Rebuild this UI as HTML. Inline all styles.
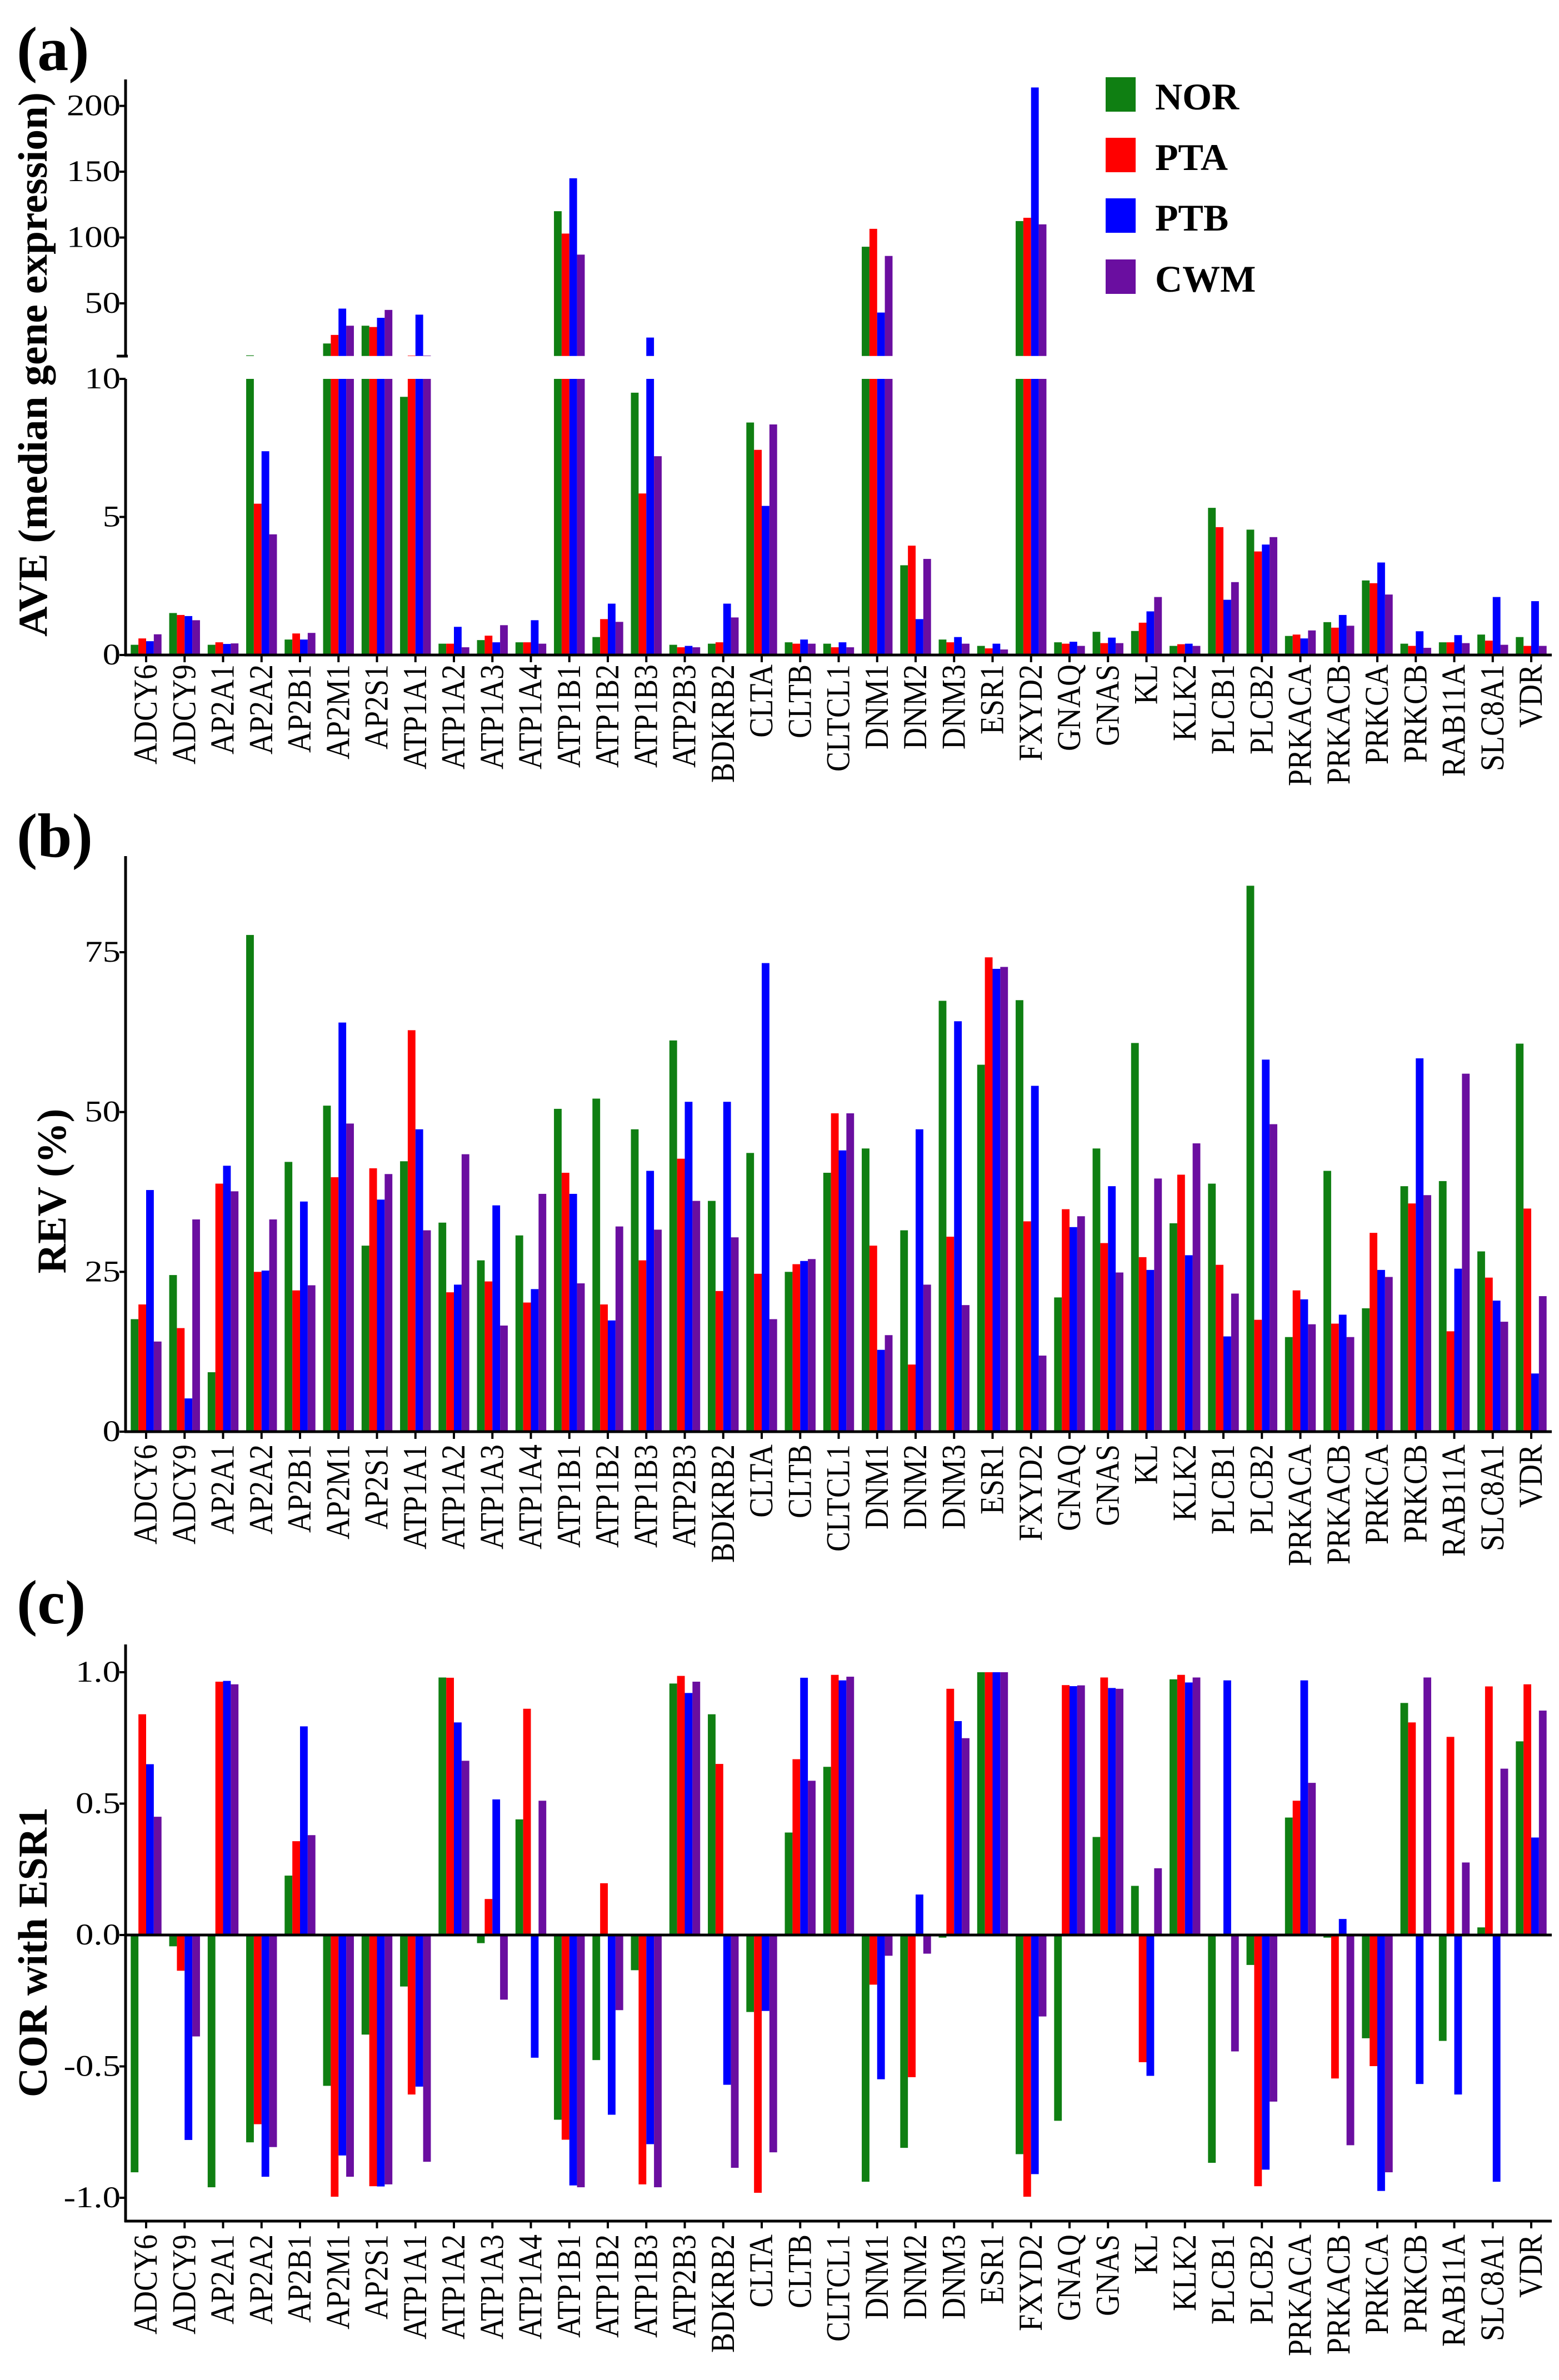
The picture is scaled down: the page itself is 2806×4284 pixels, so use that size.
<!DOCTYPE html>
<html><head><meta charset="utf-8"><style>
html,body{margin:0;padding:0;background:#fff;}
svg{display:block;}
text{font-family:"Liberation Serif",serif;fill:#000;}
</style></head><body>
<svg id="fig" width="2806" height="4284" viewBox="0 0 2806 4284" xmlns="http://www.w3.org/2000/svg">
<rect width="2806" height="4284" fill="#fff"/>
<text x="30" y="126" font-size="112" font-weight="bold">(a)</text>
<text x="30" y="1542" font-size="112" font-weight="bold">(b)</text>
<text x="30" y="2922" font-size="112" font-weight="bold">(c)</text>
<text transform="translate(84,656) rotate(-90)" text-anchor="middle" font-size="74" font-weight="bold" textLength="980" lengthAdjust="spacingAndGlyphs">AVE (median gene expression)</text>
<text transform="translate(118,2144) rotate(-90)" text-anchor="middle" font-size="74" font-weight="bold">REV (%)</text>
<text transform="translate(84,3514) rotate(-90)" text-anchor="middle" font-size="74" font-weight="bold">COR with ESR1</text>
<g>
<rect x="1990" y="139" width="54" height="62" fill="#0f7f12"/>
<text x="2079" y="197" font-size="68" font-weight="bold">NOR</text>
<rect x="1990" y="248" width="54" height="62" fill="#ff0000"/>
<text x="2079" y="306" font-size="68" font-weight="bold">PTA</text>
<rect x="1990" y="357" width="54" height="62" fill="#0000ff"/>
<text x="2079" y="415" font-size="68" font-weight="bold">PTB</text>
<rect x="1990" y="467" width="54" height="62" fill="#6a0ea0"/>
<text x="2079" y="525" font-size="68" font-weight="bold">CWM</text>
</g>
</svg>
<script>
const genes=["ADCY6","ADCY9","AP2A1","AP2A2","AP2B1","AP2M1","AP2S1","ATP1A1","ATP1A2","ATP1A3","ATP1A4","ATP1B1","ATP1B2","ATP1B3","ATP2B3","BDKRB2","CLTA","CLTB","CLTCL1","DNM1","DNM2","DNM3","ESR1","FXYD2","GNAQ","GNAS","KL","KLK2","PLCB1","PLCB2","PRKACA","PRKACB","PRKCA","PRKCB","RAB11A","SLC8A1","VDR"];
const seriesNames=["NOR","PTA","PTB","CWM"];
const aveNOR=[.37,1.52,.37,10.5,.56,19.5,33,9.35,.41,.54,.46,120,.65,9.5,.37,.41,8.42,.46,.41,93,3.25,.56,.33,112.5,.46,.84,.87,.33,5.33,4.54,.69,1.19,2.7,.41,.46,.74,.65];
const avePTA=[.6,1.45,.46,5.48,.78,26,32,10.3,.41,.7,.46,103,1.3,5.85,.28,.46,7.43,.41,.28,106.6,3.96,.46,.24,115,.41,.43,1.17,.39,4.63,3.75,.74,.99,2.6,.33,.46,.52,.33];
const avePTB=[.5,1.41,.4,7.38,.56,46,39,41.4,1.02,.46,1.26,145,1.86,24,.33,1.86,5.4,.56,.46,43,1.3,.65,.41,214,.48,.63,1.58,.41,2.0,4.0,.6,1.45,3.35,.86,.72,2.1,1.95];
const aveCWM=[.75,1.26,.42,4.37,.8,33,45,10.3,.28,1.08,.41,87,1.2,7.2,.28,1.36,8.35,.41,.28,86,3.48,.41,.2,110,.33,.43,2.1,.33,2.64,4.27,.89,1.06,2.19,.26,.43,.37,.33];
const revNOR=[17.6,24.5,9.3,77.7,42.2,51,29.1,42.3,32.7,26.8,30.7,50.5,52.1,47.3,61.2,36.1,43.6,25,40.5,44.3,31.5,67.4,57.4,67.5,21,44.3,60.8,32.6,38.8,85.4,14.8,40.8,19.3,38.4,39.2,28.2,60.7];
const revPTA=[19.9,16.2,38.8,25,22.1,39.8,41.2,62.8,21.8,23.5,20.2,40.5,19.9,26.8,42.7,22,24.7,26.2,49.8,29.1,10.5,30.5,74.2,32.9,34.8,29.5,27.3,40.2,26.1,17.5,22.1,16.9,31.1,35.7,15.7,24.1,34.9];
const revPTB=[37.8,5.2,41.6,25.2,36,64,36.3,47.3,23,35.4,22.3,37.2,17.4,40.8,51.6,51.6,73.3,26.7,44,12.8,47.3,64.2,72.4,54.1,32,38.4,25.3,27.6,14.9,58.2,20.7,18.3,25.3,58.4,25.5,20.5,9.1];
const revCWM=[14.1,33.2,37.6,33.2,22.9,48.2,40.3,31.5,43.4,16.6,37.2,23.2,32.1,31.6,36.1,30.4,17.6,27,49.8,15.1,23,19.8,72.7,11.9,33.7,24.9,39.6,45.1,21.6,48.1,16.8,14.8,24.2,37,56,17.2,21.2];
const corNOR=[-.903,-.043,-.96,-.789,.226,-.574,-.379,-.196,.98,-.031,.44,-.703,-.476,-.134,.957,.84,-.293,.39,.64,-.939,-.81,-.01,1,-.834,-.707,.373,.187,.973,-.867,-.114,.447,-.01,-.393,.883,-.403,.029,.737];
const corPTA=[.84,-.136,.964,-.72,.357,-.996,-.956,-.607,.979,.137,.861,-.779,.197,-.949,.986,.651,-.981,.669,.99,-.189,-.541,.937,1,-.996,.951,.98,-.484,.99,0,-.956,.511,-.546,-.499,.809,.754,.946,.954];
const corPTB=[.65,-.78,.967,-.92,.794,-.839,-.957,-.577,.809,.516,-.467,-.953,-.684,-.796,.921,-.57,-.289,.979,.969,-.549,.154,.814,1,-.91,.947,.94,-.536,.961,.969,-.893,.969,.061,-.974,-.567,-.607,-.939,.371];
const corCWM=[.45,-.386,.954,-.807,.38,-.92,-.949,-.863,.663,-.246,.511,-.96,-.286,-.96,.964,-.886,-.827,.587,.983,-.079,-.071,.749,1,-.31,.95,.937,.254,.98,-.443,-.634,.579,-.8,-.903,.98,.276,.633,.854];
const aveLowTicks=[0,5,10];
const aveHighTicks=[50,100,150,200];
const revTicks=[0,25,50,75];
const corTicks=[1,0.5,0,-0.5,-1];
const corTickLabels=["1.0","0.5","0.0","-0.5","-1.0"];

const svg=document.getElementById('fig');
const NS='http://www.w3.org/2000/svg';
const colors=['#0f7f12','#ff0000','#0000ff','#6a0ea0'];
const AX_L=226, AX_R=2793, X0=263, STEP=69.25, BW=13.85;
function xCenter(i){return X0+i*STEP;}
function xBar(i,s){return xCenter(i)-2*BW+s*BW;}
function mk(tag,attrs,parent){const e=document.createElementNS(NS,tag);for(const k in attrs)e.setAttribute(k,attrs[k]);(parent||svg).appendChild(e);return e;}

function yAveLow(v){return 1179-(Math.min(v,10)/10)*(1179-682);}
function yAveHigh(v){return 546-(v-50)*((546-190.6)/150);}
function yRev(v){return 2577-v*(2577-1714)/75;}
function yCor(v){return 3483-v*(3483-3010);}

function line(x1,y1,x2,y2,w,name){const l=mk('line',{x1,y1,x2,y2,stroke:'#000','stroke-width':w});

return l;}
function yTick(y,label,name){line(AX_L-11,y,AX_L,y,4,name+'-tick');
const t=mk('text',{x:0,y:0,'font-size':54,'text-anchor':'end',transform:'translate(217,'+(y+17)+') scale(1.2,1)'});


t.textContent=label;}
function xLabels(axisY,topY,panel){genes.forEach((g,i)=>{const cx=xCenter(i);
line(cx,axisY,cx,axisY+13,4,panel+'-x-tick-'+g.toLowerCase());
const t=mk('text',{'font-size':54,'text-anchor':'end',transform:'translate('+(cx+19)+','+topY+') rotate(-90) scale(1,1.12)'});


t.textContent=g;});}
function bar(x,y1,y2,s,name){const r=mk('rect',{x:x,y:Math.min(y1,y2),width:BW,height:Math.max(0.8,Math.abs(y2-y1)),fill:colors[s]});

}

const aveData=[aveNOR,avePTA,avePTB,aveCWM];
aveData.forEach((arr,s)=>arr.forEach((v,i)=>{
 bar(xBar(i,s),yAveLow(0),yAveLow(v),s,'ave-bar-'+genes[i].toLowerCase()+'-'+seriesNames[s].toLowerCase());
 if(v>10){bar(xBar(i,s),yAveHigh(10),yAveHigh(v),s,'ave-bar-upper-'+genes[i].toLowerCase()+'-'+seriesNames[s].toLowerCase());}
}));
line(AX_L,143,AX_L,641,5,'ave-upper-y-axis');
line(AX_L-16,641,AX_L+4,641,5,'ave-axis-break');
line(AX_L,682,AX_L,1181,5,'ave-lower-y-axis');
line(AX_L-2,1179,AX_R,1179,5,'ave-x-axis');
aveLowTicks.forEach(v=>yTick(yAveLow(v),String(v),'ave-y-'+v));
aveHighTicks.forEach(v=>yTick(yAveHigh(v),String(v),'ave-y-'+v));
xLabels(1179,1196,'ave');

const revData=[revNOR,revPTA,revPTB,revCWM];
revData.forEach((arr,s)=>arr.forEach((v,i)=>{
 bar(xBar(i,s),yRev(0),yRev(v),s,'rev-bar-'+genes[i].toLowerCase()+'-'+seriesNames[s].toLowerCase());
}));
line(AX_L,1541,AX_L,2579,5,'rev-y-axis');
line(AX_L-2,2577,AX_R,2577,5,'rev-x-axis');
revTicks.forEach(v=>yTick(yRev(v),String(v),'rev-y-'+v));
xLabels(2577,2600,'rev');

const corData=[corNOR,corPTA,corPTB,corCWM];
corData.forEach((arr,s)=>arr.forEach((v,i)=>{
 if(v!==0)bar(xBar(i,s),yCor(0),yCor(v),s,'cor-bar-'+genes[i].toLowerCase()+'-'+seriesNames[s].toLowerCase());
}));
line(AX_L,2960,AX_L,4000,5,'cor-y-axis');
line(AX_L,yCor(0),AX_R,yCor(0),5,'cor-zero-line');
line(AX_L-2,3998,AX_R,3998,5,'cor-x-axis');
corTicks.forEach((v,k)=>yTick(yCor(v),corTickLabels[k],'cor-y-'+k));
xLabels(3998,4022,'cor');
</script>
</body></html>
